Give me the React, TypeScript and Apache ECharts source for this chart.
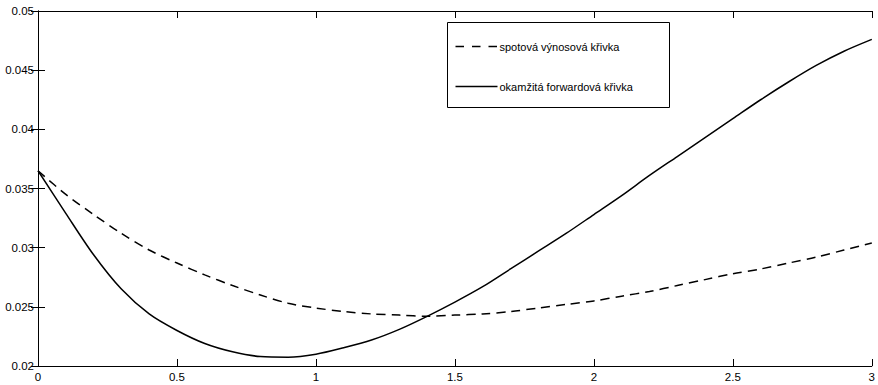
import React, { useEffect, useRef } from "react";
import * as echarts from "echarts";

const maturities = [
  0, 0.1, 0.2, 0.3, 0.4, 0.5, 0.6, 0.7, 0.8, 0.9, 1.0, 1.1, 1.2, 1.3, 1.4, 1.5,
  1.6, 1.7, 1.8, 1.9, 2.0, 2.1, 2.2, 2.3, 2.4, 2.5, 2.6, 2.7, 2.8, 2.9, 3.0,
];

const spotCurve = [
  0.0365, 0.0345, 0.0328, 0.0312, 0.0298, 0.0287, 0.0277, 0.0268, 0.026, 0.0253,
  0.0249, 0.0246, 0.0244, 0.0243, 0.0242, 0.0243, 0.0244, 0.0246, 0.0249, 0.0252,
  0.0255, 0.0259, 0.0263, 0.0268, 0.0273, 0.0278, 0.0282, 0.0287, 0.0292, 0.0298,
  0.0304,
];

const forwardCurve = [
  0.0365, 0.0329, 0.0294, 0.0265, 0.0244, 0.023, 0.0219, 0.0212, 0.0208, 0.02075,
  0.021, 0.02155, 0.0222, 0.0231, 0.0242, 0.0254, 0.0267, 0.0282, 0.0297, 0.0312,
  0.0328, 0.0344, 0.0361, 0.0377, 0.0393, 0.0409, 0.0425, 0.044, 0.0454, 0.0466,
  0.0476,
];

const seriesNames = ["spotová výnosová křivka", "okamžitá forwardová křivka"];

const FONT = "'Liberation Sans', Arial, Helvetica, sans-serif";

export default function App() {
  const ref = useRef<HTMLDivElement>(null);

  useEffect(() => {
    if (!ref.current) return;
    const chart = echarts.init(ref.current, null, { renderer: "svg" });
    const axisLine = { show: true, lineStyle: { color: "#000", width: 1 } };
    const tick = { show: true, inside: true, length: 7, lineStyle: { color: "#000", width: 1 } };
    const label = { color: "#000", fontSize: 11.5, fontFamily: FONT };
    chart.setOption({
      animation: false,
      backgroundColor: "#fff",
      grid: { left: 38, right: 6, top: 11, bottom: 19, containLabel: false },
      graphic: [
        {
          type: "group",
          left: 447,
          top: 22,
          z: 100,
          children: [
            {
              type: "rect",
              shape: { x: 0, y: 0, width: 222, height: 85 },
              style: { fill: "#fff", stroke: "#000", lineWidth: 1 },
            },
            {
              type: "line",
              shape: { x1: 8, y1: 24, x2: 50, y2: 24 },
              style: { stroke: "#000", lineWidth: 1.5, lineDash: [8.5, 8] },
            },
            {
              type: "text",
              x: 52,
              y: 24,
              style: {
                text: seriesNames[0],
                fill: "#000",
                fontSize: 11,
                fontFamily: FONT,
                verticalAlign: "middle",
                align: "left",
              },
            },
            {
              type: "line",
              shape: { x1: 8, y1: 64, x2: 50, y2: 64 },
              style: { stroke: "#000", lineWidth: 1.5 },
            },
            {
              type: "text",
              x: 52,
              y: 64,
              style: {
                text: seriesNames[1],
                fill: "#000",
                fontSize: 11,
                fontFamily: FONT,
                verticalAlign: "middle",
                align: "left",
              },
            },
          ],
        },
      ],
      xAxis: [
        {
          type: "value",
          min: 0,
          max: 3,
          interval: 0.5,
          position: "bottom",
          axisLine,
          axisTick: tick,
          axisLabel: { ...label, margin: 5 },
          splitLine: { show: false },
        },
        {
          type: "value",
          min: 0,
          max: 3,
          interval: 0.5,
          position: "top",
          axisLine,
          axisTick: tick,
          axisLabel: { show: false },
          splitLine: { show: false },
        },
      ],
      yAxis: [
        {
          type: "value",
          min: 0.02,
          max: 0.05,
          interval: 0.005,
          position: "left",
          axisLine,
          axisTick: tick,
          axisLabel: { ...label, margin: 4 },
          splitLine: { show: false },
        },
        {
          type: "value",
          min: 0.02,
          max: 0.05,
          interval: 0.005,
          position: "right",
          axisLine,
          axisTick: tick,
          axisLabel: { show: false },
          splitLine: { show: false },
        },
      ],
      series: [
        {
          name: seriesNames[0],
          type: "line",
          xAxisIndex: 0,
          yAxisIndex: 0,
          smooth: 0.3,
          symbol: "none",
          data: maturities.map((m, i) => [m, spotCurve[i]]),
          lineStyle: { color: "#000", width: 1.5, type: [9, 6] },
        },
        {
          name: seriesNames[1],
          type: "line",
          xAxisIndex: 0,
          yAxisIndex: 0,
          smooth: 0.3,
          symbol: "none",
          data: maturities.map((m, i) => [m, forwardCurve[i]]),
          lineStyle: { color: "#000", width: 1.5, type: "solid" },
        },
      ],
    });
    return () => chart.dispose();
  }, []);

  return (
    <div
      ref={ref}
      style={{ position: "fixed", left: 0, top: 0, width: 878, height: 385, background: "#fff" }}
    />
  );
}
